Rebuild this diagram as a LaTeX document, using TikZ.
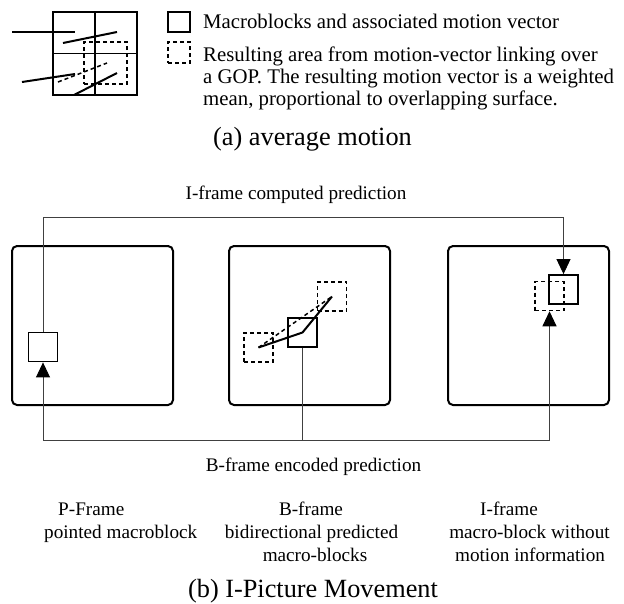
\documentclass[tikz,border=0pt]{standalone}
\usepackage{fontspec}
\setmainfont{Liberation Serif}
\usetikzlibrary{arrows.meta}
\begin{document}
\begin{tikzpicture}[x=1pt,y=-1pt,
  frame/.style={draw, line width=2pt, rounded corners=5pt, minimum width=161pt, minimum height=159pt, inner sep=0pt},
  mb/.style={draw, line width=1.8pt, minimum size=29pt, inner sep=0pt},
  mbd/.style={mb, line width=1.5pt, dash pattern=on 4pt off 3pt},
  conn/.style={draw=black!75, line width=0.9pt},
  arrowtip/.style={-{Triangle[length=15pt,width=14pt,black]}},
  mv/.style={line width=2pt},
  mvd/.style={line width=1.5pt, dash pattern=on 4pt off 3pt},
  lbl/.style={font=\fontsize{19.2}{23}\selectfont, inner sep=0pt, anchor=base},
  leg/.style={font=\fontsize{20.8}{22}\selectfont, inner sep=0pt, anchor=base west},
  captxt/.style={font=\fontsize{26.3}{30}\selectfont, inner sep=0pt, anchor=base}
]
\useasboundingbox (0,0) rectangle (624,603);

% ---------- (a) average motion ----------
\node[draw, line width=1.8pt, minimum width=84pt, minimum height=83pt, inner sep=0pt] (grid) at (95,53.5) {};
\draw[line width=1.8pt] (grid.north) -- (grid.south);
\draw[line width=1.8pt] (grid.west) -- (grid.east);
\node[draw, line width=1.5pt, dash pattern=on 4pt off 3pt, minimum width=43pt, minimum height=42pt, inner sep=0pt] (area) at (105.5,63) {};
\coordinate (a1s) at (12,32);  \coordinate (a1e) at (75,32);
\coordinate (a2s) at (63,43);  \coordinate (a2e) at (117,32);
\coordinate (a3s) at (22,82);  \coordinate (a3e) at (75,74);
\coordinate (a4s) at (74,95);  \coordinate (a4e) at (117,73);
\coordinate (ads) at (58,82);  \coordinate (ade) at (107,63);
\draw[mv] (a1s) -- (a1e);
\draw[mv] (a2s) -- (a2e);
\draw[mv] (a3s) -- (a3e);
\draw[mv] (a4s) -- (a4e);
\draw[mvd] (ads) -- (ade);

\node[draw, line width=1.8pt, minimum width=22pt, minimum height=20pt, inner sep=0pt] (lg1) at (179,22) {};
\node[draw, line width=1.5pt, dash pattern=on 4pt off 3pt, minimum width=22pt, minimum height=21pt, inner sep=0pt] (lg2) at (179,52.5) {};
\node[leg] (lt1) at (203,28) {Macroblocks and associated motion vector};
\node[leg] (lt2) at (203,61) {Resulting area from motion-vector linking over};
\node[leg] (lt3) at (203,83) {a GOP. The resulting motion vector is a weighted};
\node[leg] (lt4) at (203,105) {mean, proportional to overlapping surface.};
\node[captxt] (capa) at (312.5,145) {(a) average motion};

% ---------- (b) I-Picture Movement ----------
\node[frame] (f1) at (92.5,325.5) {};
\node[frame] (f2) at (309.5,325.5) {};
\node[frame] (f3) at (528.5,325.5) {};

\node[mb] (sq1) at (43,347) {};
\node[mbd] (dq2a) at (258.5,347.5) {};
\node[mbd] (dq2b) at (332,296.5) {};
\node[mb] (sq2) at (302.5,332.5) {};
\node[mbd] (dq3) at (549.5,296) {};
\node[mb] (sq3) at (563.5,289.5) {};

\draw[mvd] (dq2a.center) -- (dq2b.center);
\draw[mv] (dq2a.center) -- (sq2.center) -- (dq2b.center);

\coordinate (tl) at (43,217);
\coordinate (bl) at (43,440);

\draw[conn, arrowtip] (sq1.north) -- (sq1.north |- tl) -- (sq3.north |- tl) -- (sq3.north);
\draw[conn] (sq1.south |- bl) -- (dq3.south |- bl);
\draw[conn, arrowtip] (sq1.south |- bl) -- (sq1.south);
\draw[conn, arrowtip] (dq3.south |- bl) -- (dq3.south);
\draw[conn] (sq2.south) -- (sq2.south |- bl);

\node[lbl] (ttop) at (296,199) {I-frame computed prediction};
\node[lbl] (tbot) at (313.5,471) {B-frame encoded prediction};

\node[lbl, anchor=base west] (p1) at (58,515) {P-Frame};
\node[lbl, anchor=base west] (p2) at (44,538) {pointed macroblock};
\node[lbl] (b1) at (311,515) {B-frame};
\node[lbl] (b2) at (311.5,538) {bidirectional predicted};
\node[lbl] (b3) at (315,561) {macro-blocks};
\node[lbl] (i1) at (509,515) {I-frame};
\node[lbl] (i2) at (529.5,538) {macro-block without};
\node[lbl] (i3) at (530,561) {motion information};

\node[captxt] (capb) at (313,597) {(b) I-Picture Movement};
\end{tikzpicture}
\end{document}
